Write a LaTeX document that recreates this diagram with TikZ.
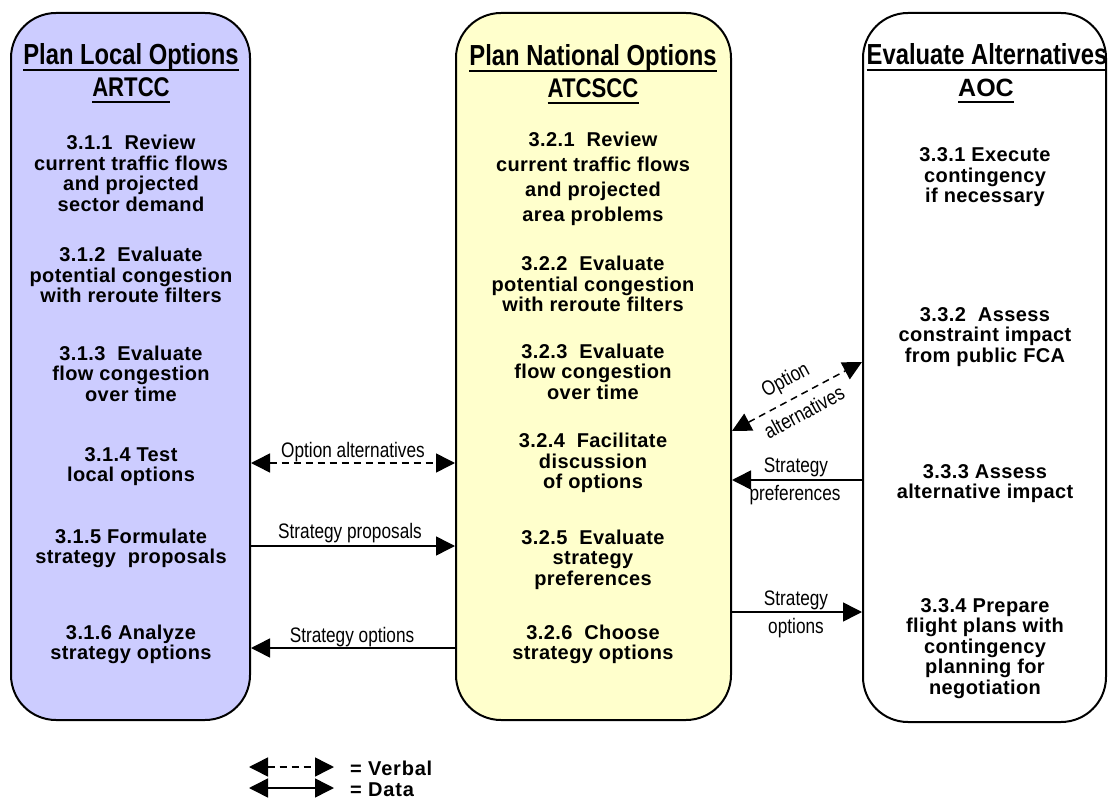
\documentclass[tikz,border=0pt]{standalone}
\usepackage{fontspec}
\setmainfont{Liberation Sans}
\newfontfamily\itemfont[LetterSpace=2]{Liberation Sans}
\newfontfamily\legfont[LetterSpace=4]{Liberation Sans}
\newfontfamily\narrowfont[FakeStretch=0.82]{Liberation Sans}
\usetikzlibrary{arrows.meta}
\definecolor{boxblue}{RGB}{204,204,255}
\definecolor{boxyellow}{RGB}{255,255,204}
\tikzset{
  column/.style={draw=black, line width=2pt, rounded corners=45pt, inner sep=0pt},
  item/.style={align=center, inner sep=0pt, font=\itemfont\bfseries\fontsize{20}{20.5}\selectfont},
  hdr/.style={inner sep=0pt, anchor=base, font=\narrowfont\bfseries\fontsize{29}{31}\selectfont},
  subhdr/.style={inner sep=0pt, anchor=base, font=\narrowfont\bfseries\fontsize{27}{29}\selectfont},
  uline/.style={line width=2pt},
  lab/.style={inner sep=0pt, anchor=base, font=\narrowfont\fontsize{21}{24}\selectfont},
  rlab/.style={inner sep=0pt, rotate=28.3, font=\narrowfont\fontsize{21}{24}\selectfont},
  legtext/.style={inner sep=0pt, anchor=base west, font=\legfont\bfseries\fontsize{20}{22}\selectfont},
  bigtip/.tip={Triangle[length=19pt,width=19pt]},
  data/.style={line width=1.5pt, -bigtip},
  datab/.style={line width=1.5pt, bigtip-bigtip},
  verbal/.style={line width=1.5pt, dash pattern=on 7pt off 5pt, bigtip-bigtip}
}
\begin{document}
\begin{tikzpicture}[x=1pt,y=-1pt]
\useasboundingbox (0,0) rectangle (1109,802);
% columns
\node[column, fill=boxblue, minimum width=239pt, minimum height=707pt] (b1) at (130.5,366.5) {};
\node[column, fill=boxyellow, minimum width=275pt, minimum height=707pt] (b2) at (593.5,366.5) {};
\node[column, fill=white, minimum width=243pt, minimum height=709pt] (b3) at (984.5,367.5) {};
% headers
\node[hdr] (h1) at (131,65) {Plan Local Options};
\draw[uline] ([yshift=-5pt]h1.base west) -- ([yshift=-5pt]h1.base east);
\node[subhdr] (s1) at (131,97) {ARTCC};
\draw[uline] ([yshift=-5pt]s1.base west) -- ([yshift=-5pt]s1.base east);
\node[hdr] (h2) at (593,66) {Plan National Options};
\draw[uline] ([yshift=-5pt]h2.base west) -- ([yshift=-5pt]h2.base east);
\node[subhdr] (s2) at (593,98) {ATCSCC};
\draw[uline] ([yshift=-5pt]s2.base west) -- ([yshift=-5pt]s2.base east);
\node[hdr] (h3) at (987,65) {Evaluate Alternatives};
\draw[uline] ([yshift=-5pt]h3.base west) -- ([yshift=-5pt]h3.base east);
\node[inner sep=0pt, anchor=base, font=\bfseries\fontsize{25}{27}\selectfont] (s3) at (986,97) {AOC};
\draw[uline] ([yshift=-5pt]s3.base west) -- ([yshift=-5pt]s3.base east);
% left items
\node[item] (i311) at (131,173.5) {3.1.1\ \ Review\\current traffic flows\\and projected\\sector demand};
\node[item] (i312) at (131,275) {3.1.2\ \ Evaluate\\potential congestion\\with reroute filters};
\node[item] (i313) at (131,373.5) {3.1.3\ \ Evaluate\\flow congestion\\over time};
\node[item] (i314) at (131,466.5) {3.1.4 Test\\local options};
\node[item] (i315) at (131,548.5) {3.1.5 Formulate\\strategy\ \ proposals};
\node[item] (i316) at (131,644.5) {3.1.6 Analyze\\strategy options};
% middle items
\node[item, font=\itemfont\bfseries\fontsize{20}{25}\selectfont] (i321) at (593,179) {3.2.1\ \ Review\\current traffic flows\\and projected\\area problems};
\node[item] (i322) at (593,284) {3.2.2\ \ Evaluate\\potential congestion\\with reroute filters};
\node[item] (i323) at (593,371.5) {3.2.3\ \ Evaluate\\flow congestion\\over time};
\node[item] (i324) at (593,463) {3.2.4\ \ Facilitate\\discussion\\of options};
\node[item] (i325) at (593,559.5) {3.2.5\ \ Evaluate\\strategy\\preferences};
\node[item] (i326) at (593,644.5) {3.2.6\ \ Choose\\strategy options};
% right items
\node[item] (i331) at (985,177.5) {3.3.1 Execute\\contingency\\if necessary};
\node[item] (i332) at (985,337) {3.3.2\ \ Assess\\constraint impact\\from public FCA};
\node[item] (i333) at (985,483.5) {3.3.3 Assess\\alternative impact};
\node[item] (i334) at (985,648.5) {3.3.4 Prepare\\flight plans with\\contingency\\planning for\\negotiation};
% connectors left-middle
\draw[verbal] (b1.east |- 0,463) -- (b2.west |- 0,463);
\node[lab] (l1) at (353,457) {Option alternatives};
\draw[data] (b1.east |- 0,546) -- (b2.west |- 0,546);
\node[lab] (l2) at (350,538) {Strategy proposals};
\draw[data] (b2.west |- 0,648) -- (b1.east |- 0,648);
\node[lab] (l3) at (352,642) {Strategy options};
% connectors middle-right
\draw[verbal] (b2.east |- 0,431) -- (b3.west |- 0,362);
\node[rlab] (l4) at (786,381) {Option};
\node[rlab] (l5) at (804,412) {alternatives};
\draw[data] (b3.west |- 0,480) -- (b2.east |- 0,480);
\node[lab] (l6) at (796,472) {Strategy};
\node[lab] (l7) at (795,500) {preferences};
\draw[data] (b2.east |- 0,612) -- (b3.west |- 0,612);
\node[lab] (l8) at (796,605) {Strategy};
\node[lab] (l9) at (796,633) {options};
% legend
\coordinate (v1) at (249,767);
\coordinate (v2) at (334,767);
\coordinate (d1) at (249,788);
\coordinate (d2) at (334,788);
\draw[verbal] (v1) -- (v2);
\draw[datab] (d1) -- (d2);
\node[legtext] (lv) at (350,775) {= Verbal};
\node[legtext] (ld) at (350,796) {= Data};
\end{tikzpicture}
\end{document}
